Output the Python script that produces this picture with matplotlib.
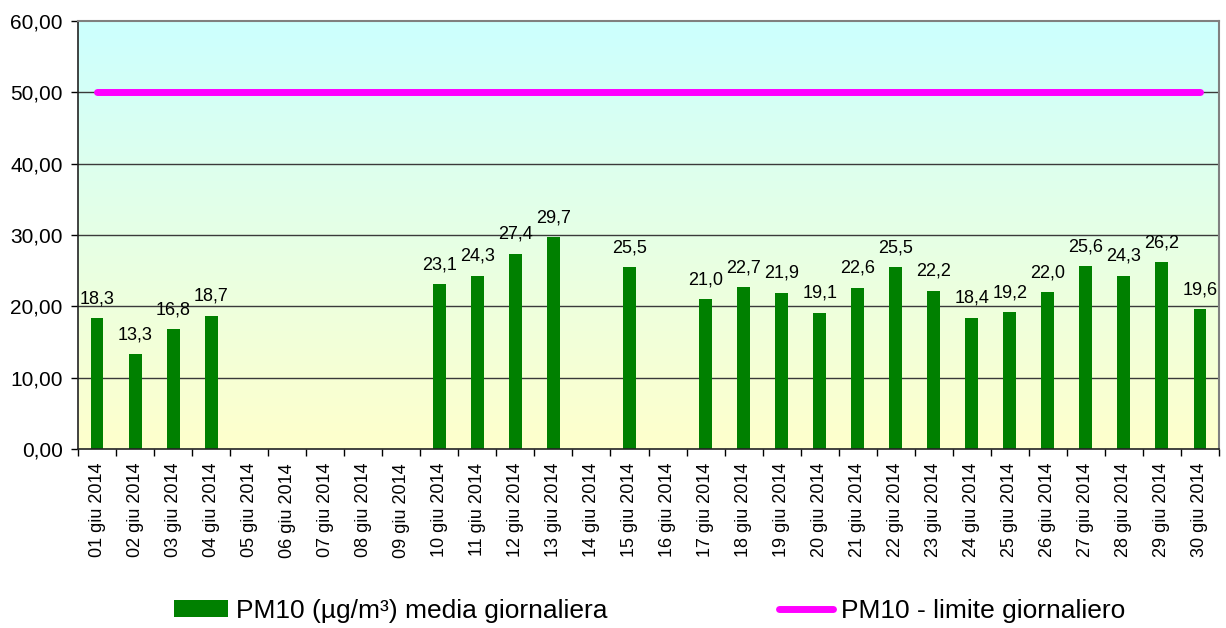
import numpy as np
import matplotlib
matplotlib.use("Agg")
import matplotlib.pyplot as plt
from matplotlib.colors import LinearSegmentedColormap
from matplotlib.patches import Patch
from matplotlib.lines import Line2D

plt.rcParams['font.family'] = ['Liberation Sans', 'DejaVu Sans']

# %% Data
days = ["%02d giu 2014" % d for d in range(1, 31)]
pm10 = [18.3, 13.3, 16.8, 18.7, np.nan, np.nan, np.nan, np.nan, np.nan,
        23.1, 24.3, 27.4, 29.7, np.nan, 25.5, np.nan, 21.0, 22.7, 21.9,
        19.1, 22.6, 25.5, 22.2, 18.4, 19.2, 22.0, 25.6, 24.3, 26.2, 19.6]
limite = [50.0] * 30
yticks = [0, 10, 20, 30, 40, 50, 60]

# %% Plot
fig = plt.figure(figsize=(12.26, 6.28), dpi=100)
ax = fig.add_axes([78 / 1226, 1 - 449 / 628, (1219 - 78) / 1226, (449 - 21) / 628])

x = np.arange(len(days))
ax.set_xlim(-0.5, len(days) - 0.5)
ax.set_ylim(0, 60)

# gradient background cyan -> yellow
cmap = LinearSegmentedColormap.from_list("bg", ["#FFFFCC", "#CCFFFF"])
grad = np.linspace(0, 1, 256).reshape(-1, 1)
ax.imshow(grad, cmap=cmap, origin="lower", aspect="auto",
          extent=(-0.5, len(days) - 0.5, 0, 60), zorder=0)

for yv in yticks[1:-1]:
    ax.axhline(yv, color="#3a3a3a", lw=1.0, zorder=1)

ax.bar(x, np.nan_to_num(pm10), width=0.34, color="#008000", zorder=2)
ax.plot(x, limite, color="#FF00FF", lw=5, solid_capstyle="round", zorder=3)

for xi, v in zip(x, pm10):
    if not np.isnan(v):
        ax.annotate(("%.1f" % v).replace(".", ","), (xi, v), xytext=(0, 15),
                    textcoords="offset pixels", ha="center", va="baseline",
                    fontsize=13, zorder=4)

ax.set_yticks(yticks)
ax.set_yticklabels([("%.2f" % t).replace(".", ",") for t in yticks], fontsize=15)
ax.tick_params(axis="y", direction="out", length=5, width=1, pad=6)

ax.set_xticks(x)
ax.set_xticklabels(days, rotation=90, fontsize=13)
ax.set_xticks(np.arange(-0.5, len(days)), minor=True)
ax.tick_params(axis="x", which="major", length=0, pad=10)
ax.tick_params(axis="x", which="minor", direction="out", length=5, width=1)

for s in ["top", "right"]:
    ax.spines[s].set_color("#808080")
    ax.spines[s].set_linewidth(1.5)
for s in ["left", "bottom"]:
    ax.spines[s].set_color("#222222")
    ax.spines[s].set_linewidth(1.2)

handles = [Patch(facecolor="#008000", edgecolor="none"),
           Line2D([0], [0], color="#FF00FF", lw=5, solid_capstyle="round")]
fig.legend(handles, ["PM10 (µg/m³) media giornaliera", "PM10 - limite giornaliero"],
           loc="center", bbox_to_anchor=(0.530, 0.027), ncol=2, frameon=False,
           fontsize=19, handlelength=2.05, handleheight=0.6, handletextpad=0.3,
           columnspacing=6.5)

fig.savefig("out.png", dpi=100)
